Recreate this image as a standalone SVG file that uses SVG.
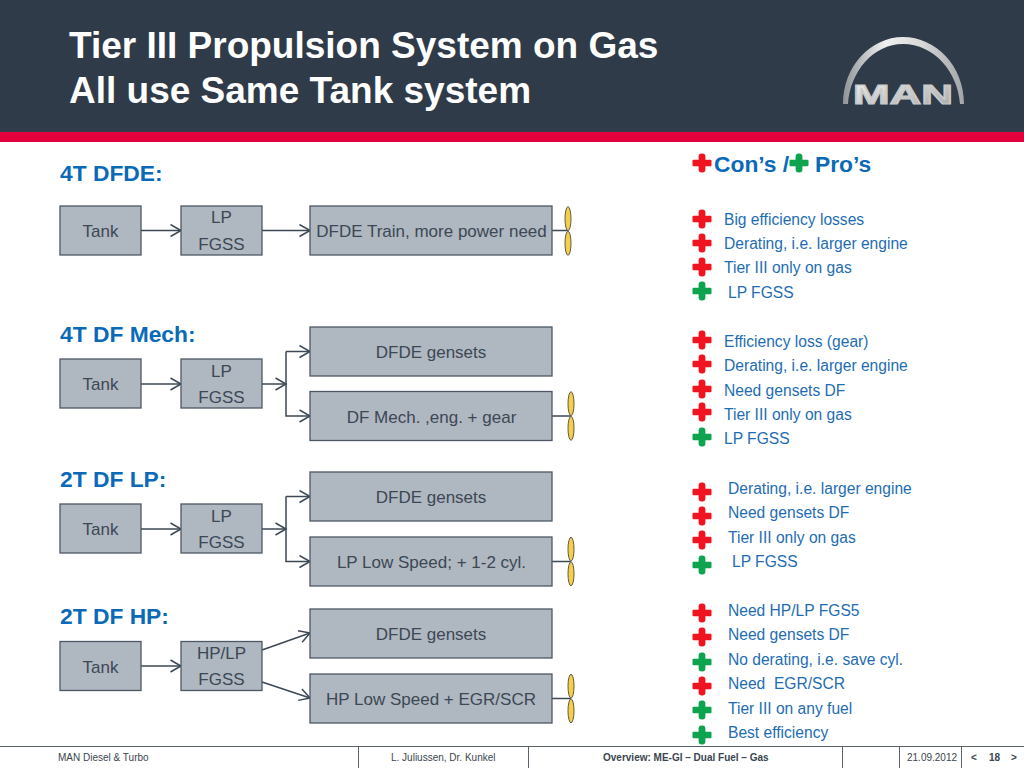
<svg xmlns="http://www.w3.org/2000/svg" width="1024" height="768" viewBox="0 0 1024 768">
<style>
text{font-family:"Liberation Sans",Arial,sans-serif}
.title{font-size:37px;font-weight:bold;fill:#fff}
.sub{font-size:22.8px;font-weight:bold;fill:#0a6ab8}
.box{fill:#afb7c1;stroke:#4d5864;stroke-width:1.3}
.lbl{font-size:17px;fill:#3c4854;text-anchor:middle}
.con{fill:none;stroke:#3c4854;stroke-width:1.5}
.li{font-size:15.6px;fill:#1e6db3;white-space:pre}
.ft{font-size:10px;fill:#3a4550}
.blade{fill:#f5cf47;stroke:#5d5a48;stroke-width:1}
.sep{stroke:#59636d;stroke-width:1}
</style>
<defs>
<marker id="arr" markerWidth="13" markerHeight="14" refX="11.500" refY="7" orient="auto" markerUnits="userSpaceOnUse"><path d="M1 1 L11.500 7 L1 13" fill="none" stroke="#3c4854" stroke-width="1.500"/></marker>
<g id="cr"><rect x="-9.500" y="-3.300" width="19" height="6.600" rx="1"/><rect x="-3.400" y="-9.500" width="6.800" height="19" rx="3"/></g>
<g id="prop"><ellipse cx="0" cy="-12.300" rx="3" ry="12" class="blade"/><ellipse cx="0" cy="12.300" rx="3" ry="12" class="blade"/></g>
<linearGradient id="arc" x1="0" y1="0" x2="1" y2="0"><stop offset="0" stop-color="#8f9498"/><stop offset=".35" stop-color="#f0f0f0"/><stop offset=".65" stop-color="#d8d8d8"/><stop offset="1" stop-color="#a2a5a8"/></linearGradient>
<linearGradient id="mt" x1="0" y1="0" x2="1" y2="1"><stop offset="0" stop-color="#eeeeee"/><stop offset="1" stop-color="#a4a6a8"/></linearGradient>
</defs>
<rect width="1024" height="768" fill="#fff"/>
<rect id="header" width="1024" height="132" fill="#2f3b49"/>
<rect id="rule" y="132" width="1024" height="10" fill="#e2003c"/>
<text class="title" x="69" y="58">Tier III Propulsion System on Gas</text>
<text class="title" x="69" y="103">All use Same Tank system</text>
<g id="logo">
<path d="M843 104 C843 66 871 37 903 37 C936 37 964 66 964 104 L960 104 C958 72 934 44 903 44 C873 44 850 72 848 104Z" fill="url(#arc)"/>
<text x="903" y="104" font-size="27" font-weight="bold" text-anchor="middle" textLength="100" lengthAdjust="spacingAndGlyphs" fill="url(#mt)" stroke="#c9c9c9" stroke-width="1.200">MAN</text>
</g>
<text class="sub" x="60" y="181">4T DFDE:</text>
<text class="sub" x="60" y="342">4T DF Mech:</text>
<text class="sub" x="60" y="487">2T DF LP:</text>
<text class="sub" x="60" y="624">2T DF HP:</text>
<g id="connectors">
<path class="con" d="M141 230.500H181" marker-end="url(#arr)"/>
<path class="con" d="M262 230.500H310" marker-end="url(#arr)"/>
<path class="con" d="M552 230.500H568"/>
<path class="con" d="M141 384H181" marker-end="url(#arr)"/>
<path class="con" d="M262 384H286" marker-end="url(#arr)"/>
<path class="con" d="M286 351.500V416H310" marker-end="url(#arr)"/>
<path class="con" d="M286 351.500H310" marker-end="url(#arr)"/>
<path class="con" d="M552 416H571"/>
<path class="con" d="M141 529H181" marker-end="url(#arr)"/>
<path class="con" d="M262 529H286" marker-end="url(#arr)"/>
<path class="con" d="M286 496.500V561.500H310" marker-end="url(#arr)"/>
<path class="con" d="M286 496.500H310" marker-end="url(#arr)"/>
<path class="con" d="M552 561.500H571"/>
<path class="con" d="M141 666H181" marker-end="url(#arr)"/>
<path class="con" d="M262 650L310 633" marker-end="url(#arr)"/>
<path class="con" d="M262 682L310 698" marker-end="url(#arr)"/>
<path class="con" d="M552 698.500H571"/>
</g>
<g id="n1"><rect class="box" x="60" y="206" width="81" height="49"/><text class="lbl" x="100.500" y="237">Tank</text></g>
<g id="n2"><rect class="box" x="181" y="206" width="81" height="49"/><text class="lbl" x="221.500" y="223">LP</text><text class="lbl" x="221.500" y="250">FGSS</text></g>
<g id="n3"><rect class="box" x="310" y="206" width="242" height="49"/><text class="lbl" x="431.500" y="237">DFDE Train, more power need</text></g>
<g id="n4"><rect class="box" x="60" y="359" width="81" height="49"/><text class="lbl" x="100.500" y="390">Tank</text></g>
<g id="n5"><rect class="box" x="181" y="359" width="81" height="49"/><text class="lbl" x="221.500" y="377">LP</text><text class="lbl" x="221.500" y="403">FGSS</text></g>
<g id="n6"><rect class="box" x="310" y="327" width="242" height="49"/><text class="lbl" x="431" y="358">DFDE gensets</text></g>
<g id="n7"><rect class="box" x="310" y="391.500" width="242" height="49"/><text class="lbl" x="431.500" y="423">DF Mech. ,eng. + gear</text></g>
<g id="n8"><rect class="box" x="60" y="504" width="81" height="49"/><text class="lbl" x="100.500" y="535">Tank</text></g>
<g id="n9"><rect class="box" x="181" y="504" width="81" height="49"/><text class="lbl" x="221.500" y="522">LP</text><text class="lbl" x="221.500" y="548">FGSS</text></g>
<g id="n10"><rect class="box" x="310" y="472" width="242" height="49"/><text class="lbl" x="431" y="503">DFDE gensets</text></g>
<g id="n11"><rect class="box" x="310" y="537" width="242" height="49"/><text class="lbl" x="431.500" y="568">LP Low Speed; + 1-2 cyl.</text></g>
<g id="n12"><rect class="box" x="60" y="641.500" width="81" height="49"/><text class="lbl" x="100.500" y="673">Tank</text></g>
<g id="n13"><rect class="box" x="181" y="641.500" width="81" height="49"/><text class="lbl" x="221.500" y="659">HP/LP</text><text class="lbl" x="221.500" y="685">FGSS</text></g>
<g id="n14"><rect class="box" x="310" y="609" width="242" height="49"/><text class="lbl" x="431" y="640">DFDE gensets</text></g>
<g id="n15"><rect class="box" x="310" y="674" width="242" height="49"/><text class="lbl" x="431" y="705">HP Low Speed + EGR/SCR</text></g>
<use href="#prop" x="568" y="231"/>
<use href="#prop" x="571" y="416"/>
<use href="#prop" x="571" y="561.500"/>
<use href="#prop" x="571" y="698.500"/>
<g id="legend">
<text x="714" y="172" font-size="22.800" font-weight="bold" fill="#0a6ab8">Con’s /</text>
<text x="815" y="172" font-size="22.800" font-weight="bold" fill="#0a6ab8">Pro’s</text>
</g>
<g fill="#f01420">
<use href="#cr" x="702" y="163"/>
<use href="#cr" x="702" y="219"/><use href="#cr" x="702" y="243"/><use href="#cr" x="702" y="267"/>
<use href="#cr" x="702" y="340"/><use href="#cr" x="702" y="364"/><use href="#cr" x="702" y="389"/><use href="#cr" x="702" y="412"/>
<use href="#cr" x="702" y="492"/><use href="#cr" x="702" y="516"/><use href="#cr" x="702" y="540"/>
<use href="#cr" x="702" y="613"/><use href="#cr" x="702" y="637"/><use href="#cr" x="702" y="686"/>
</g>
<g fill="#0ea44f">
<use href="#cr" x="799" y="163"/>
<use href="#cr" x="702" y="291"/><use href="#cr" x="702" y="437"/><use href="#cr" x="702" y="565"/>
<use href="#cr" x="702" y="662"/><use href="#cr" x="702" y="710"/><use href="#cr" x="702" y="735"/>
</g>
<g id="lists">
<text class="li" x="724" y="225">Big efficiency losses</text>
<text class="li" x="724" y="249">Derating, i.e. larger engine</text>
<text class="li" x="724" y="273">Tier III only on gas</text>
<text class="li" x="728" y="298">LP FGSS</text>
<text class="li" x="724" y="347">Efficiency loss (gear)</text>
<text class="li" x="724" y="371">Derating, i.e. larger engine</text>
<text class="li" x="724" y="396">Need gensets DF</text>
<text class="li" x="724" y="420">Tier III only on gas</text>
<text class="li" x="724" y="444">LP FGSS</text>
<text class="li" x="728" y="494">Derating, i.e. larger engine</text>
<text class="li" x="728" y="518">Need gensets DF</text>
<text class="li" x="728" y="543">Tier III only on gas</text>
<text class="li" x="732" y="567">LP FGSS</text>
<text class="li" x="728" y="616">Need HP/LP FGS5</text>
<text class="li" x="728" y="640">Need gensets DF</text>
<text class="li" x="728" y="665">No derating, i.e. save cyl.</text>
<text class="li" x="728" y="689">Need  EGR/SCR</text>
<text class="li" x="728" y="714">Tier III on any fuel</text>
<text class="li" x="728" y="738">Best efficiency</text>
</g>
<g id="footer">
<path class="sep" d="M0 746.500H1024M358.500 747V768M528.500 747V768M842.500 747V768M899.500 747V768M961.500 747V768" fill="none"/>
<text class="ft" x="58" y="761">MAN Diesel &amp; Turbo</text>
<text class="ft" x="391" y="761">L. Juliussen, Dr. Kunkel</text>
<text class="ft" x="603" y="761" font-weight="bold">Overview: ME-GI – Dual Fuel – Gas</text>
<text class="ft" x="907" y="761">21.09.2012</text>
<text class="ft" x="971" y="761" font-weight="bold">&lt;</text>
<text class="ft" x="989" y="761" font-weight="bold">18</text>
<text class="ft" x="1011" y="761" font-weight="bold">&gt;</text>
</g>
</svg>
